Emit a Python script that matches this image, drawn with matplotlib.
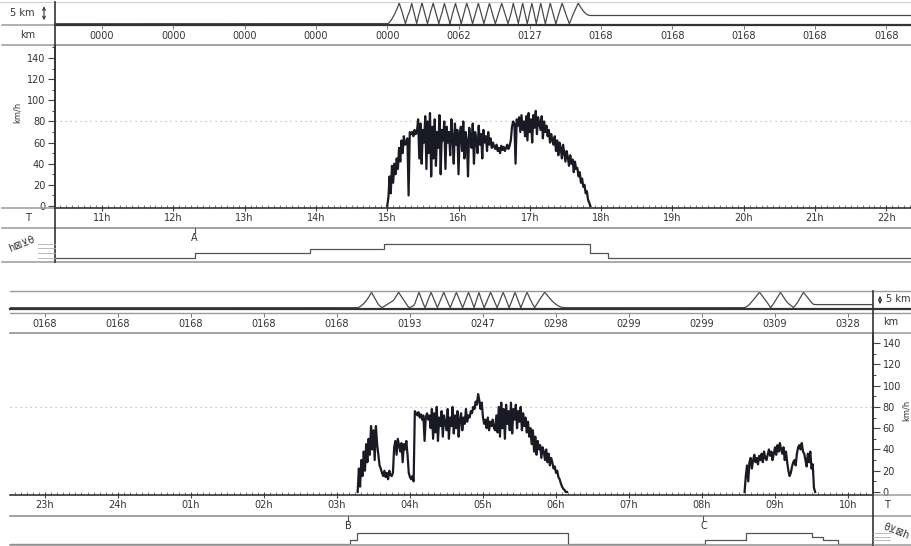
import numpy as np
import matplotlib
matplotlib.use("Agg")
import matplotlib.pyplot as plt
from matplotlib.lines import Line2D
from matplotlib.patches import FancyArrowPatch
from matplotlib.ticker import MultipleLocator

W, H = 911, 546

# ---- data ----
top_hours = list(range(11, 23))
top_hour_labels = ["11h", "12h", "13h", "14h", "15h", "16h", "17h", "18h", "19h", "20h", "21h", "22h"]
top_km_labels = ["0000", "0000", "0000", "0000", "0000", "0062", "0127", "0168", "0168", "0168", "0168", "0168"]

bot_hours = list(range(23, 35))
bot_hour_labels = ["23h", "24h", "01h", "02h", "03h", "04h", "05h", "06h", "07h", "08h", "09h", "10h"]
bot_km_labels = ["0168", "0168", "0168", "0168", "0168", "0193", "0247", "0298", "0299", "0299", "0309", "0328"]

speed_ticks = [0, 20, 40, 60, 80, 100, 120, 140]

# speed, one value per minute (km/h)
top_drive_start = 15.0
top_drive_km = (0, 168)
top_speed = [
    0, 8, 28, 12, 38, 22, 40, 30, 45, 35,
    55, 42, 62, 50, 66, 58, 60, 64, 10, 70,
    68, 70, 66, 72, 68, 70, 82, 45, 78, 40,
    72, 60, 85, 35, 80, 50, 88, 28, 75, 45,
    82, 38, 70, 55, 86, 30, 72, 62, 80, 35,
    75, 60, 70, 48, 82, 65, 40, 78, 58, 72,
    30, 68, 75, 52, 80, 45, 70, 62, 28, 74,
    66, 55, 78, 40, 70, 62, 50, 76, 58, 68,
    45, 72, 60, 66, 52, 70, 58, 64, 55, 60,
    56, 54, 58, 52, 55, 50, 57, 53, 56, 52,
    55, 58, 54, 57, 62, 75, 80, 78, 40, 82,
    76, 84, 70, 86, 72, 80, 66, 85, 62, 88,
    70, 82, 60, 86, 74, 90, 68, 84, 78, 72,
    85, 64, 80, 70, 76, 66, 72, 60, 68, 62,
    58, 66, 52, 62, 48, 60, 55, 45, 58, 50,
    42, 52, 46, 38, 48, 40, 44, 32, 42, 35,
    36, 28, 32, 22, 26, 18, 20, 12, 14, 6,
    3, 0,
]

bot_drive1_start = 27.283
bot_drive1_km = (168, 298)
bot_speed1 = [
    0, 22, 5, 30, 15, 38, 20, 45, 28, 50,
    35, 62, 40, 58, 30, 62, 45, 35, 25, 22,
    18, 15, 20, 14, 18, 12, 20, 16, 15, 18,
    42, 48, 35, 50, 44, 38, 46, 28, 45, 40,
    48, 35, 18, 14, 12, 15, 10, 76, 74, 72,
    75, 70, 73, 68, 72, 48, 70, 74, 68, 72,
    60, 78, 50, 74, 56, 80, 48, 70, 62, 76,
    52, 72, 65, 58, 78, 50, 70, 62, 80, 55,
    72, 60, 76, 52, 68, 74, 58, 70, 64, 78,
    66, 72, 70, 76, 74, 80, 78, 85, 82, 92,
    86, 78, 84, 70, 64, 68, 60, 70, 58, 66,
    62, 68, 60, 58, 72, 56, 80, 52, 84, 60,
    78, 50, 82, 64, 76, 58, 84, 55, 78, 68,
    82, 60, 76, 66, 80, 58, 74, 62, 70, 56,
    66, 52, 60, 45, 58, 38, 52, 35, 48, 40,
    44, 32, 42, 38, 30, 40, 28, 36, 25, 32,
    28, 22, 24, 18, 20, 14, 12, 8, 5, 3,
    2, 0, 0,
]

bot_drive2_start = 32.583
bot_drive2_km = (298, 327)
bot_speed2 = [
    0, 15, 25, 10, 28, 32, 22, 30, 35, 28,
    32, 26, 34, 30, 36, 28, 38, 32, 30, 35,
    40, 34, 38, 30, 36, 42, 35, 44, 38, 46,
    40, 36, 42, 30, 38, 28, 20, 15, 18, 24,
    28, 30, 25, 36, 42, 44, 40, 46, 38, 36,
    30, 24, 36, 28, 38, 22, 26, 4, 0,
]

# activity levels (0 rest ... 3 driving), change times in hours
top_act_times = [10.34, 12.3, 13.92, 14.95, 17.85, 18.1, 22.35]
top_act_levels = [0, 1, 2, 3, 1, 0]
bot_act_times = [22.52, 27.18, 27.27, 30.17, 32.04, 32.6, 33.5, 33.66, 33.86, 34.35]
bot_act_levels = [0, 1, 3, 0, 1, 3, 2, 1, 0]

top_marks = [("A", 12.3)]
bot_marks = [("B", 27.15), ("C", 32.02)]

INK = "#1a1a24"
GRID = "#9a9a9a"
TXT = "#333333"

fig = plt.figure(figsize=(W / 100, H / 100), dpi=100)
fig.patch.set_facecolor("white")


def box(x0, y0, x1, y1):
    ax = fig.add_axes([x0 / W, 1 - y1 / H, (x1 - x0) / W, (y1 - y0) / H])
    ax.patch.set_alpha(0)
    for s in ax.spines.values():
        s.set_visible(False)
    ax.set_xticks([])
    ax.set_yticks([])
    return ax


def hline(y, x0, x1, color=GRID, lw=1.0):
    fig.add_artist(Line2D([x0 / W, x1 / W], [1 - y / H, 1 - y / H], color=color, lw=lw))


def vline(x, y0, y1, color="#333333", lw=1.2):
    fig.add_artist(Line2D([x / W, x / W], [1 - y0 / H, 1 - y1 / H], color=color, lw=lw))


def label(x, y, s, **kw):
    kw.setdefault("fontsize", 7)
    kw.setdefault("color", TXT)
    kw.setdefault("ha", "center")
    kw.setdefault("va", "center")
    fig.text(x / W, 1 - y / H, s, **kw)


def km_arrow(x, y0, y1):
    fig.add_artist(FancyArrowPatch((x / W, 1 - y0 / H), (x / W, 1 - y1 / H),
                                   transform=fig.transFigure, arrowstyle="<->",
                                   mutation_scale=5, lw=0.8, color=TXT))


def odometer(drives, odo0, t0, t1):
    ts, od = [t0], [odo0]
    for start, speeds, (k0, k1) in drives:
        v = np.array(speeds, float)
        t = start + np.arange(len(v)) / 60
        cum = np.concatenate([[0], np.cumsum((v[:-1] + v[1:]) / 2 / 60)])
        cum = k0 + cum * (k1 - k0) / cum[-1]
        ts += list(t)
        od += list(cum)
    ts.append(t1)
    od.append(od[-1])
    tt = np.linspace(t0, t1, 6000)
    oo = np.interp(tt, ts, od)
    pen = 5 - np.abs(((oo - odo0) % 10) - 5)
    return tt, pen


def panel(xl, xr, rows, xlim, hours, hour_labels, km_labels, drives, odo0,
          act_t, act_l, marks, side, zero_px, px_per_kmh, lev_px):
    (s0, s1), (k0, k1), (v0, v1), (t0, t1), (a0, a1) = rows

    # distance zigzag
    ax = box(xl, s0, xr, s1)
    tt, pen = odometer(drives, odo0, *xlim)
    ax.plot(tt, pen, color="#4a4a4a", lw=0.9)
    ax.set_xlim(*xlim)
    base = s1 - 0.8
    unit = (base - s0 - 1.2) / 5
    ax.set_ylim(-(s1 - base) / unit, (base - s0) / unit)
    ax.spines["bottom"].set_visible(True)
    ax.spines["bottom"].set_color("#333333")
    ax.spines["bottom"].set_linewidth(1.6)

    # km row
    ax = box(xl, k0, xr, k1)
    ax.set_xlim(*xlim)
    ax.set_ylim(0, 1)
    ax.set_xticks(hours)
    ax.tick_params(axis="x", top=True, bottom=False, direction="in", length=3,
                   width=0.7, color="#777777", labelbottom=False)
    for h, s in zip(hours, km_labels):
        ax.text(h, 0.42, s, fontsize=7, color=TXT, ha="center", va="center")
    ax.spines["bottom"].set_visible(True)
    ax.spines["bottom"].set_color(GRID)
    ax.spines["bottom"].set_linewidth(1.3)

    # speed
    ax = box(xl, v0, xr, v1)
    ax.set_xlim(*xlim)
    ax.set_ylim(-(v1 - zero_px) / px_per_kmh, (zero_px - v0) / px_per_kmh)
    ax.axhline(80, color="#b5b5b5", lw=0.9, dashes=(1, 3))
    for start, speeds, _ in drives:
        v = np.array(speeds, float)
        t = start + np.arange(len(v)) / 60
        ax.plot(t, v, color=INK, lw=1.6)
    ax.spines["bottom"].set_visible(True)
    ax.spines["bottom"].set_color("#333333")
    ax.spines["bottom"].set_linewidth(1.2)
    ax.spines[side].set_visible(True)
    ax.spines[side].set_color("#333333")
    ax.spines[side].set_linewidth(1.2)
    ax.set_yticks(speed_ticks)
    ax.yaxis.set_minor_locator(MultipleLocator(10))
    if side == "left":
        ax.tick_params(axis="y", which="both", left=True, right=False, labelleft=True)
    else:
        ax.yaxis.tick_right()
        ax.tick_params(axis="y", which="both", left=False, right=True, labelright=True)
    ax.tick_params(axis="y", which="major", direction="out", length=5, width=0.8,
                   labelsize=7, labelcolor=TXT, color="#444444", pad=2)
    ax.tick_params(axis="y", which="minor", direction="out", length=2.5, width=0.7,
                   color="#444444")
    ax.set_xticks(hours)
    ax.xaxis.set_minor_locator(MultipleLocator(1 / 12))
    ax.tick_params(axis="x", which="major", direction="inout", length=5, width=0.8,
                   color="#444444", labelbottom=False)
    ax.tick_params(axis="x", which="minor", direction="in", length=2, width=0.6,
                   color="#666666")

    # hour row
    ax = box(xl, t0, xr, t1)
    ax.set_xlim(*xlim)
    ax.set_ylim(0, 1)
    for h, s in zip(hours, hour_labels):
        ax.text(h, 0.5, s, fontsize=7, color=TXT, ha="center", va="center")
    ax.spines["bottom"].set_visible(True)
    ax.spines["bottom"].set_color(GRID)
    ax.spines["bottom"].set_linewidth(1.3)

    # activity row
    ax = box(xl, a0, xr, a1)
    ax.set_xlim(*xlim)
    lev0, lev3 = lev_px
    step = (lev0 - lev3) / 3
    ax.set_ylim(-(a1 - lev0) / step, (lev0 - a0) / step)
    ax.step(act_t, list(act_l) + [act_l[-1]], where="post", color="#555555", lw=0.9)
    top_val = (lev0 - a0) / step
    for name, h in marks:
        ax.plot([h, h], [top_val, top_val - 5 / step], color="#555555", lw=0.8)
        ax.text(h, top_val - 10 / step, name, fontsize=7, color=TXT, ha="center", va="center")
    ax.spines["bottom"].set_visible(True)
    ax.spines["bottom"].set_color(GRID)
    ax.spines["bottom"].set_linewidth(1.2)


# ---- upper strip: 11h-22h ----
top_rows = [(2, 24.5), (24.5, 45), (45, 208), (208, 228), (228, 262)]
panel(55, 911, top_rows, (10.341, 22.346), top_hours, top_hour_labels, top_km_labels,
      [(top_drive_start, top_speed, top_drive_km)], top_drive_km[0],
      top_act_times, top_act_levels, top_marks, "left", 206, 1.057, (258, 244))

hline(1.5, 0, 911, color="#cfcfcf", lw=0.8)
for y in (24.5, 45, 228, 262):
    hline(y, 2, 55, color=GRID, lw=1.1)
hline(208, 2, 55, color=GRID, lw=1.1)
vline(55, 1.5, 262)
label(22, 13.5, "5 km")
km_arrow(44, 3.5, 23)
label(28, 35, "km")
label(28, 218, "T")
label(17, 112, "km/h", fontsize=6, rotation=90)
label(22, 244, "h\u22a0\u22bb\u03b8", fontsize=7, rotation=22)
for y in (244, 248, 253, 258):
    hline(y, 38, 55, color="#b0b0b0", lw=0.6)

# ---- lower strip: 23h-10h ----
bot_rows = [(291, 308.5), (312.5, 333), (333, 495), (495, 516), (516, 545)]
panel(10, 873, bot_rows, (22.521, 34.342), bot_hours, bot_hour_labels, bot_km_labels,
      [(bot_drive1_start, bot_speed1, bot_drive1_km),
       (bot_drive2_start, bot_speed2, bot_drive2_km)], bot_drive1_km[0],
      bot_act_times, bot_act_levels, bot_marks, "right", 492, 1.064, (543.5, 533))

hline(291, 10, 911, color=GRID, lw=1.0)
hline(308.5, 873, 911, color="#333333", lw=1.6)
hline(312.5, 10, 911, color=GRID, lw=1.0)
for y in (333, 495, 516, 545):
    hline(y, 873, 911, color=GRID, lw=1.1)
vline(873, 291, 546)
label(898, 299, "5 km")
km_arrow(880, 293, 307)
label(891, 322, "km")
label(887, 505, "T")
label(906, 410, "km/h", fontsize=6, rotation=90)
label(896, 531, "\u03b8\u22bb\u22a0h", fontsize=7, rotation=-22)
for y in (533, 536.5, 540, 543.5):
    hline(y, 873, 890, color="#b0b0b0", lw=0.6)

fig.savefig("out.png", dpi=100, facecolor="white")
